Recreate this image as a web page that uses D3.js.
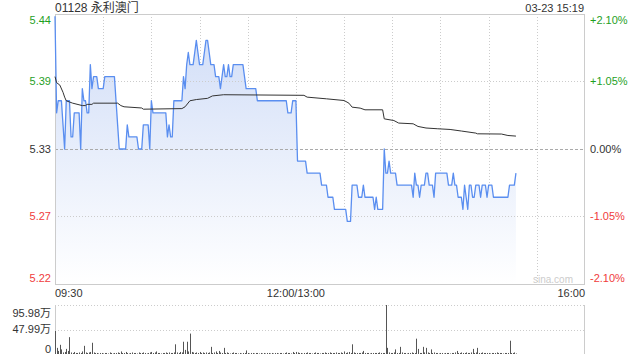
<!DOCTYPE html>
<html><head><meta charset="utf-8">
<script src="https://cdn.jsdelivr.net/npm/d3@7"></script>
<style>html,body{margin:0;padding:0;background:#fff;}svg{display:block;font-family:"Liberation Sans",Arial,"Noto Sans CJK SC",sans-serif;}</style>
</head><body><svg id="c" width="640" height="360"></svg>
<script>
const title = "01128 永利澳门";
const stamp = "03-23 15:19";
const prevClose = 5.33;
const pctTicks = [2.10, 1.05, 0, -1.05, -2.10];
const timeTickMinutes = [0, 150, 330];
const timeTickLabels = ["09:30", "12:00/13:00", "16:00"];
const volTickValues = [0, 47.99, 95.98];
const volTickLabels = ["0", "47.99万", "95.98万"];

// per-minute last price
const prices = [
5.44,5.36,5.37,5.37,5.37,5.35,5.33,5.37,5.37,5.37,
5.34,5.34,5.36,5.36,5.36,5.36,5.33,5.38,5.37,5.37,
5.36,5.36,5.40,5.38,5.39,5.39,5.39,5.38,5.38,5.38,
5.38,5.39,5.39,5.39,5.39,5.39,5.39,5.39,5.37,5.35,
5.33,5.33,5.33,5.33,5.33,5.35,5.34,5.34,5.34,5.34,
5.34,5.34,5.33,5.33,5.33,5.35,5.35,5.35,5.35,5.33,
5.37,5.36,5.36,5.36,5.36,5.36,5.36,5.36,5.36,5.36,
5.34,5.35,5.34,5.34,5.37,5.37,5.37,5.37,5.37,5.37,
5.39,5.38,5.40,5.41,5.40,5.40,5.40,5.41,5.42,5.41,
5.40,5.40,5.40,5.41,5.42,5.42,5.41,5.40,5.40,5.40,
5.39,5.39,5.39,5.38,5.39,5.40,5.39,5.39,5.40,5.39,
5.39,5.40,5.40,5.40,5.40,5.40,5.40,5.40,5.39,5.38,
5.38,5.38,5.38,5.38,5.38,5.38,5.37,5.37,5.37,5.37,
5.37,5.37,5.37,5.37,5.37,5.37,5.37,5.37,5.37,5.37,
5.37,5.37,5.37,5.37,5.37,5.36,5.36,5.36,5.37,5.37,
5.37,5.32,5.32,5.32,5.32,5.32,5.32,5.31,5.31,5.31,
5.31,5.31,5.31,5.31,5.31,5.31,5.30,5.30,5.30,5.30,
5.29,5.29,5.29,5.29,5.28,5.28,5.28,5.28,5.28,5.28,
5.28,5.28,5.27,5.27,5.27,5.30,5.30,5.30,5.30,5.29,
5.29,5.29,5.30,5.29,5.29,5.29,5.29,5.29,5.29,5.28,
5.29,5.28,5.28,5.28,5.28,5.33,5.31,5.31,5.32,5.31,
5.31,5.31,5.31,5.30,5.30,5.30,5.30,5.30,5.30,5.30,
5.30,5.30,5.30,5.29,5.31,5.30,5.30,5.29,5.30,5.30,
5.30,5.31,5.31,5.30,5.30,5.30,5.29,5.31,5.31,5.31,
5.31,5.31,5.31,5.31,5.31,5.30,5.30,5.30,5.31,5.30,
5.30,5.29,5.29,5.29,5.28,5.30,5.29,5.28,5.30,5.30,
5.29,5.29,5.30,5.30,5.30,5.29,5.30,5.30,5.30,5.29,
5.30,5.30,5.30,5.29,5.29,5.29,5.29,5.29,5.29,5.29,
5.29,5.29,5.29,5.30,5.30,5.30,5.30,5.31
];

// average price [minute, value]
const avgMinutes = [0,1,3,5,6,7,9,11,17,19,20,23,24,39,41,43,54,55,79,81,84,88,95,98,105,155,157,169,180,183,185,190,193,204,205,211,214,223,226,231,238,246,253,262,263,278,282,287];
const avgValues = [5.390,5.385,5.383,5.377,5.373,5.370,5.369,5.368,5.366,5.366,5.367,5.367,5.368,5.368,5.366,5.365,5.364,5.363,5.3635,5.365,5.370,5.371,5.372,5.374,5.375,5.3745,5.373,5.3716,5.3702,5.368,5.3647,5.3639,5.3625,5.3625,5.355,5.3536,5.3515,5.3509,5.3487,5.3474,5.3468,5.3462,5.3449,5.3432,5.3426,5.3424,5.3412,5.3407];

// per-minute volume (万)
const volumes = [
45,12,6,18,9,3,4,10,6,33,
3,2,4,2,2,3,2,5,16,3,
2,3,4,22,3,2,2,1,2,2,
1,2,2,1,3,2,1,2,2,3,
2,5,2,2,4,2,1,2,3,2,
2,1,3,2,2,3,2,1,2,3,
4,2,3,5,2,2,1,2,2,3,
2,3,2,2,3,19,3,2,4,3,
24,8,24,5,40,4,3,2,3,2,
4,2,3,2,3,2,3,14,2,3,
5,2,6,3,2,12,2,3,2,1,
2,3,2,2,1,2,1,2,2,7,
2,1,2,2,1,2,2,1,2,1,
2,1,2,2,1,2,1,2,2,1,
2,2,1,2,3,2,2,1,4,2,
4,3,2,2,1,2,2,3,2,2,
1,2,3,2,2,1,2,2,3,2,
2,3,2,2,2,3,2,2,3,2,
5,2,3,4,2,19,3,2,2,2,
2,3,6,2,2,2,1,2,2,2,
2,2,3,2,2,2,95.98,12,3,2,
2,3,9,2,2,14,3,2,2,1,
2,2,3,2,2,30,10,2,2,14,
3,12,3,2,9,2,3,2,2,1,
2,2,1,2,2,2,1,2,2,3,
6,2,2,3,2,2,3,2,2,3,
10,2,3,12,2,2,3,2,2,2,
2,1,2,2,2,3,2,2,2,1,
2,2,2,26,2,2,3,1
];

const svg = d3.select("#c");
const L = 55, R = 585, T = 14, B = 284;
const VT = 305, VB = 354;
const green = "#1f9f1f", red = "#f03c3c", dark = "#333";

const x = d3.scaleLinear().domain([0, 330]).range([L, R]);
const y = d3.scaleLinear().domain([prevClose * (1 - 0.021), prevClose * (1 + 0.021)]).range([B, T]);
const yv = d3.scaleLinear().domain([0, 95.98]).range([VB, VT]);

const defs = svg.append("defs");
const grad = defs.append("linearGradient").attr("id", "g").attr("x1", 0).attr("y1", 0).attr("x2", 0).attr("y2", 1)
  .attr("gradientUnits", "userSpaceOnUse").attr("x1", 0).attr("y1", T).attr("x2", 0).attr("y2", B);
grad.append("stop").attr("offset", "0%").attr("stop-color", "#cfdcf7");
grad.append("stop").attr("offset", "100%").attr("stop-color", "#ffffff");

// header
svg.append("text").attr("x", L).attr("y", 12).attr("font-size", 12).attr("fill", dark).text(title);
svg.append("text").attr("x", R - 1).attr("y", 12).attr("font-size", 11).attr("fill", dark).attr("text-anchor", "end").text(stamp);

// vertical grid
const gridMin = d3.range(30, 330, 30);
svg.append("g").selectAll("line").data(gridMin).join("line")
  .attr("x1", d => Math.round(x(d)) + 0.5).attr("x2", d => Math.round(x(d)) + 0.5)
  .attr("y1", T).attr("y2", B).attr("stroke", "#ccc").attr("stroke-dasharray", "1,2");

// area
const area = d3.area().x((d, i) => x(i)).y0(B).y1(d => y(d));
svg.append("path").datum(prices).attr("d", area).attr("fill", "url(#g)");

// horizontal grid
pctTicks.filter(p => Math.abs(p) < 2).forEach(p => {
  const yy = Math.round(y(prevClose * (1 + p / 100))) + 0.5;
  svg.append("line").attr("x1", L).attr("x2", R).attr("y1", yy).attr("y2", yy)
    .attr("stroke", p === 0 ? "#aaa" : "#ccc").attr("stroke-dasharray", p === 0 ? "3,2" : "1,2");
});

// volume grid
svg.append("line").attr("x1", L).attr("x2", R).attr("y1", VT + 0.5).attr("y2", VT + 0.5).attr("stroke", "#ccc").attr("stroke-dasharray", "1,2");
svg.append("line").attr("x1", L).attr("x2", R).attr("y1", Math.round(yv(47.99)) + 0.5).attr("y2", Math.round(yv(47.99)) + 0.5).attr("stroke", "#ccc").attr("stroke-dasharray", "1,2");

// frames
svg.append("rect").attr("x", L + 0.5).attr("y", T + 0.5).attr("width", R - L - 1).attr("height", B - T).attr("fill", "none").attr("stroke", "#ccc");
[L + 0.5, R - 0.5].forEach(xx => svg.append("line").attr("x1", xx).attr("x2", xx).attr("y1", VT).attr("y2", VB).attr("stroke", "#ccc"));

// lines
svg.append("path").datum(prices).attr("fill", "none").attr("stroke", "#5a8ef0").attr("stroke-width", 1.3)
  .attr("stroke-linejoin", "round").attr("d", d3.line().x((d, i) => x(i)).y(d => y(d)));
svg.append("path").datum(avgMinutes.map((m, i) => [m, avgValues[i]])).attr("fill", "none").attr("stroke", "#333").attr("stroke-width", 1)
  .attr("d", d3.line().x(d => x(d[0])).y(d => y(d[1])));

// volume bars
svg.append("g").selectAll("line").data(volumes).join("line")
  .attr("x1", (d, i) => Math.round(x(i)) + 0.5).attr("x2", (d, i) => Math.round(x(i)) + 0.5)
  .attr("y1", VB).attr("y2", d => yv(d)).attr("stroke", "#555").attr("stroke-width", 1);

// price axis labels
pctTicks.forEach((p, i) => {
  let yy = y(prevClose * (1 + p / 100));
  if (i === 0) yy += 6;
  if (i === pctTicks.length - 1) yy -= 6;
  const col = p > 0 ? green : (p < 0 ? red : dark);
  svg.append("text").attr("x", 51).attr("y", yy).attr("dy", "0.35em").attr("text-anchor", "end")
    .attr("font-size", 11).attr("fill", col).text((prevClose * (1 + p / 100)).toFixed(2));
  svg.append("text").attr("x", 590).attr("y", yy).attr("dy", "0.35em").attr("text-anchor", "start")
    .attr("font-size", 11).attr("fill", col).text((p > 0 ? "+" : "") + p.toFixed(2) + "%");
});

// time labels
timeTickMinutes.forEach((m, i) => {
  svg.append("text").attr("x", x(m)).attr("y", 297).attr("font-size", 11).attr("fill", dark)
    .attr("text-anchor", i === 0 ? "start" : (i === timeTickMinutes.length - 1 ? "end" : "middle")).text(timeTickLabels[i]);
});

// volume labels
volTickValues.forEach((v, i) => {
  let yy = yv(v);
  if (i === 0) yy -= 5;
  if (i === volTickValues.length - 1) yy += 8;
  svg.append("text").attr("x", 51).attr("y", yy).attr("dy", "0.35em").attr("text-anchor", "end")
    .attr("font-size", 11).attr("fill", dark).text(volTickLabels[i]);
});

// watermark
svg.append("text").attr("x", 573).attr("y", 283).attr("text-anchor", "end").attr("font-size", 10).attr("fill", "#ccc").text("sina.com");
</script></body></html>
